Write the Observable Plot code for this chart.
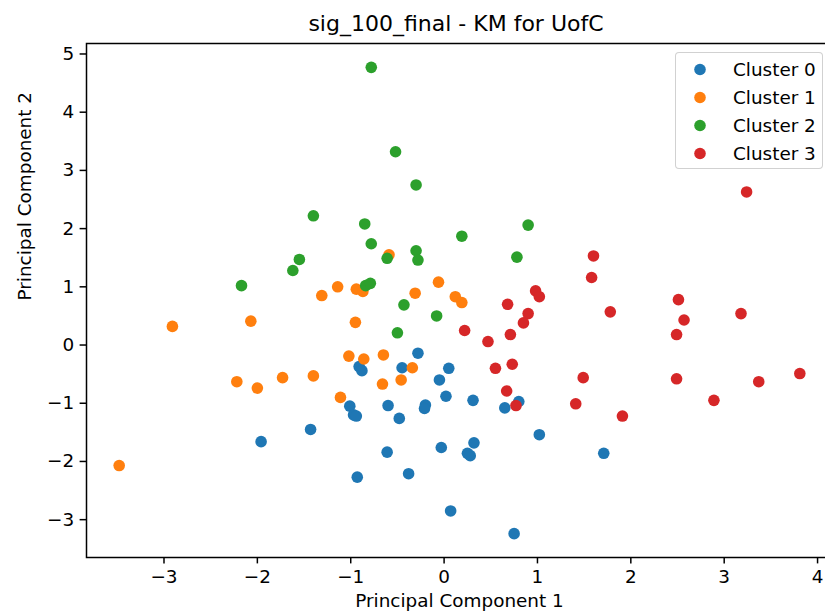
<!DOCTYPE html>
<html><head><meta charset="utf-8">
<script src="https://cdn.jsdelivr.net/npm/d3@7"></script>
<script src="https://cdn.jsdelivr.net/npm/@observablehq/plot@0.6"></script>
<style>
html,body{margin:0;padding:0;background:#fff;overflow:hidden;}
#wrap{position:relative;width:825px;height:615px;overflow:hidden;font-family:"DejaVu Sans",sans-serif;}
#title{position:absolute;left:86px;width:740px;top:13px;font-size:22px;line-height:22px;text-align:center;color:#000;white-space:nowrap;}
#legend{position:absolute;left:675px;top:52px;width:146px;height:115px;border:1px solid rgba(204,204,204,0.9);border-radius:4px;background:rgba(255,255,255,0.8);}
#legend svg{position:absolute;left:0;top:0;}
</style>
</head><body>
<div id="wrap"><div id="title">sig_100_final - KM for UofC</div><div id="legend"></div></div>
<script>
const clusters = ["Cluster 0", "Cluster 1", "Cluster 2", "Cluster 3"];
const colors = ["#1f77b4", "#ff7f0e", "#2ca02c", "#d62728"];

const c0x = [-0.28, -0.45, -0.91, -0.88, 0.05, -0.05, 0.02, -1.01, -0.97, -0.94, -0.60, -0.48, -0.20, -0.21, -1.43, -1.96, -0.61, -0.03, -0.38, -0.93, 0.07, 0.31, 0.65, 0.80, 0.32, 0.25, 0.28, 1.02, 1.71, 0.75];
const c0y = [-0.14, -0.39, -0.37, -0.44, -0.40, -0.60, -0.88, -1.05, -1.20, -1.22, -1.04, -1.26, -1.03, -1.09, -1.45, -1.66, -1.84, -1.76, -2.21, -2.27, -2.85, -0.95, -1.08, -0.97, -1.68, -1.86, -1.90, -1.54, -1.86, -3.24];

const c1x = [-0.59, -1.14, -1.31, -0.94, -0.87, -0.31, -0.06, 0.12, 0.19, -0.95, -1.02, -0.86, -0.65, -0.34, -2.91, -2.07, -0.46, -0.66, -1.11, -1.40, -1.73, -2.00, -2.22, -3.48];
const c1y = [1.55, 1.00, 0.85, 0.96, 0.92, 0.89, 1.08, 0.83, 0.73, 0.39, -0.19, -0.24, -0.17, -0.39, 0.32, 0.41, -0.60, -0.67, -0.90, -0.53, -0.56, -0.74, -0.63, -2.07];

const c2x = [-0.78, -0.52, -0.30, -1.40, -0.85, -0.78, -0.30, -0.28, -0.61, -1.55, -1.62, -2.17, -0.84, -0.79, 0.19, 0.90, 0.78, -0.43, -0.08, -0.50];
const c2y = [4.77, 3.32, 2.75, 2.22, 2.08, 1.74, 1.62, 1.46, 1.49, 1.47, 1.28, 1.02, 1.02, 1.06, 1.87, 2.06, 1.51, 0.69, 0.50, 0.21];

const c3x = [3.24, 1.60, 1.58, 0.98, 1.02, 2.51, 0.68, 0.90, 0.85, 0.71, 0.22, 0.47, 0.55, 0.73, 0.67, 0.77, 1.78, 2.57, 2.49, 3.18, 1.49, 2.49, 3.37, 3.81, 1.41, 1.91, 2.89];
const c3y = [2.63, 1.53, 1.16, 0.93, 0.83, 0.78, 0.70, 0.54, 0.38, 0.18, 0.25, 0.06, -0.40, -0.33, -0.79, -1.04, 0.57, 0.43, 0.18, 0.54, -0.56, -0.58, -0.63, -0.49, -1.01, -1.22, -0.95];

const xTicks = [-3, -2, -1, 0, 1, 2, 3, 4];
const yTicks = [-3, -2, -1, 0, 1, 2, 3, 4, 5];

const series = [[c0x, c0y], [c1x, c1y], [c2x, c2y], [c3x, c3y]];
const data = [];
series.forEach(([xs, ys], k) => xs.forEach((x, i) => data.push({x, y: ys[i], cluster: clusters[k]})));

const fontSize = 18.4;
const plot = Plot.plot({
  width: 834, height: 615,
  marginTop: 43, marginBottom: 58, marginLeft: 86, marginRight: 2,
  style: {fontFamily: "'DejaVu Sans', sans-serif", fontSize: fontSize + "px", color: "#000", background: "transparent", maxWidth: "none"},
  x: {domain: [-3.83, 4.16]},
  y: {domain: [-3.65, 5.18]},
  color: {domain: clusters, range: colors},
  marks: [
    Plot.dot(data, {x: "x", y: "y", fill: "cluster", r: 5.8}),
    Plot.frame({stroke: "#000", strokeWidth: 1.5}),
    Plot.axisX({ticks: xTicks, tickSize: 6.4, tickPadding: 6, strokeWidth: 1.5, label: null, fontSize: fontSize}),
    Plot.axisY({ticks: yTicks, tickSize: 6.4, tickPadding: 6, strokeWidth: 1.5, label: null, fontSize: fontSize}),
    Plot.text(["Principal Component 1"], {frameAnchor: "bottom", dy: 49, fontSize: fontSize}),
    Plot.text(["Principal Component 2"], {frameAnchor: "left", rotate: -90, dx: -61, fontSize: fontSize})
  ]
});
plot.style.position = "absolute";
plot.style.left = "0px";
plot.style.top = "0px";
plot.style.maxWidth = "none";
document.getElementById("wrap").insertBefore(plot, document.getElementById("title"));

// legend built from the same color scale
const sc = plot.scale("color");
const lg = d3.select("#legend").append("svg").attr("width", 146).attr("height", 115);
clusters.forEach((c, i) => {
  const cy = 16.5 + i * 28;
  lg.append("circle").attr("cx", 24).attr("cy", cy).attr("r", 5.8).attr("fill", sc.apply(c));
  lg.append("text").attr("x", 57).attr("y", cy).attr("dy", "0.35em")
    .attr("font-family", "'DejaVu Sans', sans-serif").attr("font-size", fontSize).attr("fill", "#000").text(c);
});
</script>
</body></html>
